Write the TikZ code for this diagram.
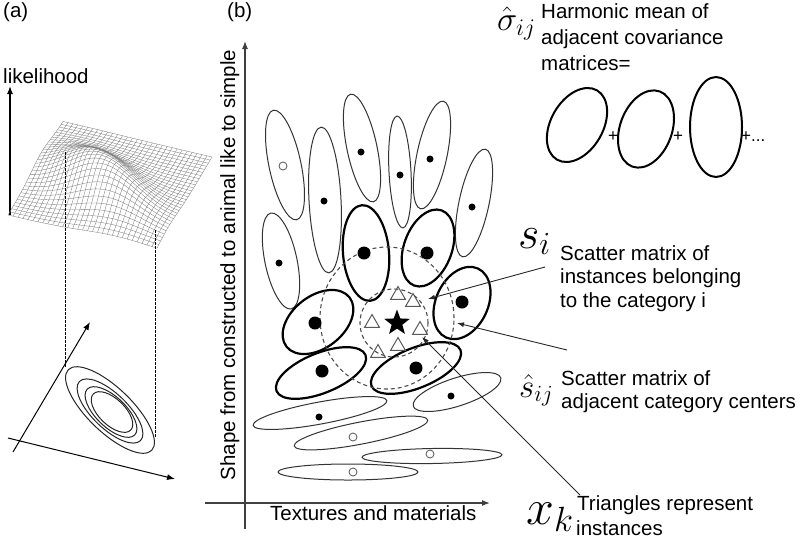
\RequirePackage{fix-cm}
\documentclass[tikz,border=0pt]{standalone}
\usepackage{fontspec}
\setmainfont{Liberation Sans}
\usetikzlibrary{shapes.geometric,arrows.meta}
\begin{document}
\begin{tikzpicture}[x=1pt,y=-1pt,
  declare function={
    gp(\u,\v)=-0.55*(\u-0.42)+0.84*(\v-0.47);
    gr(\u,\v)=0.84*(\u-0.42)+0.55*(\v-0.47);
    gq(\u,\v)=gp(\u,\v)*gp(\u,\v)/0.16+gr(\u,\v)*gr(\u,\v)/0.05;
    sx(\u,\v)=8+55*\u+149*\v;
    sy(\u,\v)=215-93*\u+35*\v-36*exp(0-gq(\u,\v));
  },
  mesh/.style={black!50,line width=0.35pt},
  thinell/.style={black!80,line width=1pt},
  thickell/.style={black,line width=2.2pt},
  contour/.style={black!85,line width=1pt},
  dashcirc/.style={draw=black!70,line width=1.1pt,dash pattern=on 4pt off 3pt},
  bigdot/.style={circle,fill=black,minimum size=13pt,inner sep=0},
  smalldot/.style={circle,fill=black,minimum size=7pt,inner sep=0},
  hollowdot/.style={circle,draw=black!60,line width=0.9pt,fill=white,minimum size=8pt,inner sep=0},
  tri/.style={regular polygon,regular polygon sides=3,draw=black!65,line width=1pt,minimum size=17pt,inner sep=0},
  lbl/.style={font=\fontsize{20.5}{24}\selectfont,inner sep=0},
  ptr/.style={black!85,line width=0.9pt,-{Latex[length=7pt,width=5pt]}},
  axis/.style={black!75,line width=1.2pt,-{Latex[length=8pt,width=6pt]}},
  projline/.style={black,line width=1pt,dash pattern=on 2.5pt off 1.5pt},
]
\useasboundingbox (0,0) rectangle (800,542);

% ---------------- panel (a) ----------------
\node[lbl,anchor=base west] (pa) at (3,17) {(a)};
\node[lbl,anchor=base west] (lik) at (3,83) {likelihood};
\coordinate (likb) at (10,215);
\coordinate (likt) at (10,86);
\draw[axis,black] (likb) -- (likt);

% mesh surface
\foreach \i in {0,...,30}{
  \draw[mesh] plot[variable=\t,domain=0:1,samples=31] ({sx(\i/30,\t)},{sy(\i/30,\t)});
  \draw[mesh] plot[variable=\t,domain=0:1,samples=31] ({sx(\t,\i/30)},{sy(\t,\i/30)});
}

% projection lines
\coordinate (pl1) at (65,152); \coordinate (pl2) at (65,367);
\coordinate (pr1) at (155,230); \coordinate (pr2) at (155,438);
\draw[projline] (pl1) -- (pl2);
\draw[projline] (pr1) -- (pr2);

% ground axes
\coordinate (ga1) at (13,452); \coordinate (ga2) at (90,322);
\coordinate (gb1) at (8,438); \coordinate (gb2) at (175,479);
\draw[axis,black,line width=1pt] (ga1) -- (ga2);
\draw[axis,black,line width=1pt] (gb1) -- (gb2);

% contour ellipses
\draw[contour,rotate around={-44:(110,410)}] (110,410) ellipse [x radius=58pt,y radius=22pt];
\draw[contour,rotate around={-44:(110,411)}] (110,411) ellipse [x radius=42.5pt,y radius=17.5pt];
\draw[contour,rotate around={-44:(111,412)}] (111,412) ellipse [x radius=33pt,y radius=15pt];
\draw[contour,rotate around={-44:(112,412)}] (112,412) ellipse [x radius=26pt,y radius=13pt];

% ---------------- panel (b) ----------------
\node[lbl,anchor=base west] (pb) at (227,17) {(b)};
\coordinate (vy0) at (245,529); \coordinate (vy1) at (245,41);
\coordinate (hx0) at (205,503); \coordinate (hx1) at (490,503);
\draw[axis] (vy0) -- (vy1);
\draw[axis] (hx0) -- (hx1);
\node[lbl,anchor=base,rotate=90] (ylab) at (235,265) {Shape from constructed to animal like to simple};
\node[lbl,anchor=base west] (xlab) at (270,520) {Textures and materials};

% thin upper ellipses
\draw[thinell,rotate around={12:(285,165)}] (285,165) ellipse [x radius=16pt,y radius=56pt];
\draw[thinell,rotate around={3:(325,200)}] (325,200) ellipse [x radius=16pt,y radius=73pt];
\draw[thinell,rotate around={12:(362,148)}] (362,148) ellipse [x radius=15pt,y radius=55pt];
\draw[thinell,rotate around={3:(400,172)}] (400,172) ellipse [x radius=11pt,y radius=56pt];
\draw[thinell,rotate around={-12:(432,155)}] (432,155) ellipse [x radius=15pt,y radius=55pt];
\draw[thinell,rotate around={-12:(474,203)}] (474,203) ellipse [x radius=15pt,y radius=55pt];
\draw[thinell,rotate around={12:(281,261)}] (281,261) ellipse [x radius=16pt,y radius=49pt];

% thick ellipses
\draw[thickell,rotate around={5:(366,253)}] (366,253) ellipse [x radius=23pt,y radius=48pt];
\draw[thickell,rotate around={-20:(428,248)}] (428,248) ellipse [x radius=24pt,y radius=40pt];
\draw[thickell,rotate around={-25:(462,303)}] (462,303) ellipse [x radius=26pt,y radius=38pt];
\draw[thickell,rotate around={38:(318,322)}] (318,322) ellipse [x radius=40pt,y radius=26pt];
\draw[thickell,rotate around={22:(321,373)}] (321,373) ellipse [x radius=48pt,y radius=20pt];
\draw[thickell,rotate around={22:(416,368)}] (416,368) ellipse [x radius=48pt,y radius=20pt];

% thin lower ellipses
\draw[thinell,rotate around={18:(457,392)}] (457,392) ellipse [x radius=46pt,y radius=14pt];
\draw[thinell,rotate around={10.5:(320,413)}] (320,413) ellipse [x radius=68pt,y radius=11pt];
\draw[thinell,rotate around={11:(361,433)}] (361,433) ellipse [x radius=68pt,y radius=11pt];
\draw[thinell,rotate around={1:(432,456)}] (432,456) ellipse [x radius=70pt,y radius=7.5pt];
\draw[thinell] (348,472) ellipse [x radius=70pt,y radius=8pt];

% dashed circles
\node[dashcirc,ellipse,minimum width=134pt,minimum height=142pt,inner sep=0] (outerc) at (387,318) {};
\node[dashcirc,circle,minimum size=68pt,inner sep=0] (innerc) at (394,323) {};

% dots
\node[hollowdot] (d1) at (283,166) {};
\node[smalldot] (d2) at (324,201) {};
\node[smalldot] (d3) at (361,152) {};
\node[smalldot] (d4) at (400,175) {};
\node[smalldot] (d5) at (430,159) {};
\node[smalldot] (d6) at (472,207) {};
\node[smalldot] (d7) at (279,263) {};
\node[bigdot] (t1) at (364,253) {};
\node[bigdot] (t2) at (427,253) {};
\node[bigdot] (t3) at (462,302) {};
\node[bigdot] (t4) at (315,323) {};
\node[bigdot] (t5) at (322,371) {};
\node[bigdot] (t6) at (416,368) {};
\node[smalldot] (l1) at (451,396) {};
\node[smalldot] (l2) at (319,417) {};
\node[hollowdot] (l3) at (353,437) {};
\node[hollowdot] (l4) at (430,454) {};
\node[hollowdot] (l5) at (353,472) {};

% star and triangles
\node[star,star points=5,star point ratio=2.4,fill=black,minimum size=27pt,inner sep=0] (center) at (397,323) {};
\node[tri] (x1) at (398,295) {};
\node[tri] (x2) at (413,302) {};
\node[tri] (x3) at (372,323) {};
\node[tri] (x4) at (420,330) {};
\node[tri] (x5) at (398,346) {};
\node[tri] (x6) at (378,353) {};

% top right: harmonic mean
\node[anchor=base west,inner sep=0] (sig) at (497,30) {\fontsize{34}{36}\selectfont$\hat{\sigma}_{ij}$};
\node[lbl,anchor=north west,align=left,font=\fontsize{20.5}{25.8}\selectfont] (harm) at (541,3.5) {Harmonic mean of\\adjacent covariance\\matrices=};
\draw[black,line width=2pt,rotate around={-30:(577,125)}] (577,125) ellipse [x radius=26pt,y radius=40pt];
\draw[black,line width=2pt,rotate around={-20:(646,129)}] (646,129) ellipse [x radius=26pt,y radius=40pt];
\draw[black,line width=2pt] (716,127) ellipse [x radius=26pt,y radius=50pt];
\node[inner sep=0,font=\fontsize{17}{18}\selectfont] (p1) at (613,137) {+};
\node[inner sep=0,font=\fontsize{17}{18}\selectfont] (p2) at (678,137) {+};
\node[inner sep=0,anchor=west,font=\fontsize{17}{18}\selectfont] (p3) at (741,137) {+...};

% s_i
\node[anchor=base west,inner sep=0] (si) at (518,248) {\fontsize{46}{48}\selectfont$s_i$};
\node[lbl,anchor=north west,align=left,font=\fontsize{20.5}{23.5}\selectfont] (sitext) at (560,245) {Scatter matrix of\\instances belonging\\to the category i};
% s hat
\node[anchor=base west,inner sep=0] (shat) at (519,397) {\fontsize{33}{35}\selectfont$\hat{s}_{ij}$};
\node[lbl,anchor=north west,align=left,font=\fontsize{20.5}{23}\selectfont] (shtext) at (561,370) {Scatter matrix of\\adjacent category centers};
% x_k
\node[anchor=base west,inner sep=0] (xk) at (526,524) {\fontsize{50}{52}\selectfont$x_k$};
\node[lbl,anchor=base west] (xktext1) at (577,510) {Triangles represent};
\node[lbl,anchor=base west] (xktext2) at (576,535) {instances};

% pointers
\coordinate (si0) at (545,267); \coordinate (si1) at (428,299);
\coordinate (sh0) at (567,350); \coordinate (sh1) at (457,323);
\coordinate (xk0) at (580,495); \coordinate (xk1) at (422,337);
\draw[ptr] (si0) -- (si1);
\draw[ptr] (sh0) -- (sh1);
\draw[ptr] (xk0) -- (xk1);
\end{tikzpicture}
\end{document}
